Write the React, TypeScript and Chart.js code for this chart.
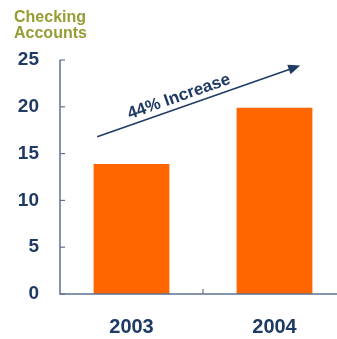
import React, { useEffect, useRef } from "react";
import { Chart, registerables } from "chart.js";

Chart.register(...registerables);

const categories = ["2003", "2004"];
const accounts = [13.9, 19.9];
const yTicks = [0, 5, 10, 15, 20, 25];
const titleLines = ["Checking", "Accounts"];
const annotationText = "44% Increase";
// arrow start/end in data space: [category index, value]
const arrowFrom = [-0.24, 16.8];
const arrowTo = [1.18, 24.4];

const NAVY = "#1f3a64";
const AXIS = "#5d7191";
const ORANGE = "#ff6600";
const OLIVE = "#959d33";
const FONT = "'Liberation Sans', Arial, sans-serif";

const decorPlugin = {
  id: "decor",
  afterDatasetsDraw(chart: any) {
    const ctx = chart.ctx;
    const x = chart.scales.x;
    const y = chart.scales.y;
    const area = chart.chartArea;
    ctx.save();
    // axes
    ctx.strokeStyle = AXIS;
    ctx.lineWidth = 1.5;
    ctx.beginPath();
    ctx.moveTo(area.left, y.getPixelForValue(25));
    ctx.lineTo(area.left, area.bottom);
    ctx.lineTo(area.right, area.bottom);
    ctx.stroke();
    // inward y ticks
    ctx.lineWidth = 1.2;
    yTicks.forEach((v) => {
      const py = y.getPixelForValue(v);
      ctx.beginPath();
      ctx.moveTo(area.left, py);
      ctx.lineTo(area.left + 5, py);
      ctx.stroke();
    });
    // x tick between categories
    const mid = x.getPixelForValue(0.5);
    ctx.beginPath();
    ctx.moveTo(mid, area.bottom);
    ctx.lineTo(mid, area.bottom - 5);
    ctx.stroke();

    // title
    ctx.fillStyle = OLIVE;
    ctx.font = `bold 16px ${FONT}`;
    ctx.textAlign = "left";
    ctx.textBaseline = "alphabetic";
    titleLines.forEach((t, i) => ctx.fillText(t, 14, 22 + i * 16));

    // arrow
    const x1 = x.getPixelForValue(arrowFrom[0]);
    const y1 = y.getPixelForValue(arrowFrom[1]);
    const x2 = x.getPixelForValue(arrowTo[0]);
    const y2 = y.getPixelForValue(arrowTo[1]);
    const ang = Math.atan2(y2 - y1, x2 - x1);
    ctx.strokeStyle = NAVY;
    ctx.fillStyle = NAVY;
    ctx.lineWidth = 1.5;
    ctx.beginPath();
    ctx.moveTo(x1, y1);
    ctx.lineTo(x2 - 8 * Math.cos(ang), y2 - 8 * Math.sin(ang));
    ctx.stroke();
    ctx.beginPath();
    ctx.moveTo(x2, y2);
    ctx.lineTo(x2 - 12 * Math.cos(ang) + 5 * Math.sin(ang), y2 - 12 * Math.sin(ang) - 5 * Math.cos(ang));
    ctx.lineTo(x2 - 12 * Math.cos(ang) - 5 * Math.sin(ang), y2 - 12 * Math.sin(ang) + 5 * Math.cos(ang));
    ctx.closePath();
    ctx.fill();
    // label
    const cx = x1 + (x2 - x1) * 0.42;
    const cy = y1 + (y2 - y1) * 0.42;
    ctx.translate(cx, cy);
    ctx.rotate(ang);
    ctx.font = `bold 17px ${FONT}`;
    ctx.textAlign = "center";
    ctx.textBaseline = "alphabetic";
    ctx.fillText(annotationText, 0, -6);
    ctx.restore();
  },
};

export default function App() {
  const ref = useRef<HTMLCanvasElement>(null);
  useEffect(() => {
    if (!ref.current) return;
    const chart = new Chart(ref.current, {
      type: "bar",
      data: {
        labels: categories,
        datasets: [
          {
            data: accounts,
            backgroundColor: ORANGE,
            borderWidth: 0,
            barPercentage: 0.53,
            categoryPercentage: 1,
          },
        ],
      },
      options: {
        animation: false,
        responsive: false,
        layout: { padding: { top: 60, left: 0, right: 0, bottom: 0 } },
        plugins: { legend: { display: false }, tooltip: { enabled: false }, title: { display: false } },
        scales: {
          x: {
            grid: { display: false, drawTicks: false },
            border: { display: false },
            ticks: { color: NAVY, font: { family: FONT, size: 20, weight: "bold" }, padding: 21 },
            afterFit: (s: any) => { s.height = 45; },
          },
          y: {
            min: 0,
            max: 25,
            grid: { display: false, drawTicks: false },
            border: { display: false },
            ticks: { stepSize: 5, color: NAVY, font: { family: FONT, size: 19, weight: "bold" }, padding: 21 },
            afterFit: (s: any) => { s.width = 60; },
          },
        },
      },
      plugins: [decorPlugin],
    });
    return () => chart.destroy();
  }, []);
  return (
    <div style={{ position: "fixed", left: 0, top: 0, width: 337, height: 339, overflow: "hidden", background: "#fff" }}>
      <canvas ref={ref} width={346} height={339} style={{ display: "block" }} />
    </div>
  );
}
